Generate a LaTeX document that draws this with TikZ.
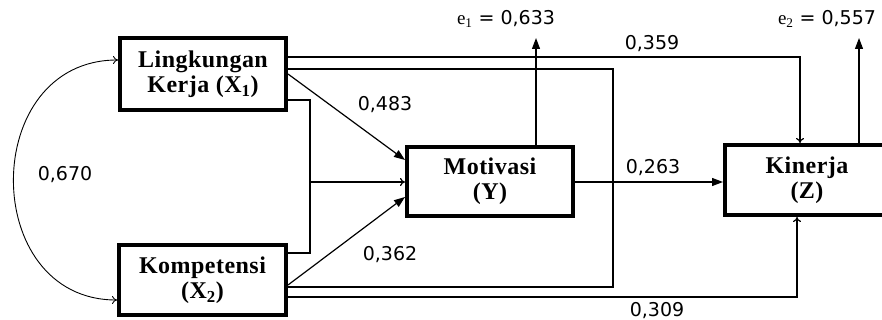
\documentclass[tikz,border=0pt]{standalone}
\usepackage{fontspec}
\setmainfont{Liberation Serif}
\newfontfamily\lblfont{DejaVu Sans}
\newfontfamily\boxfont[LetterSpace=2]{Liberation Serif}
\usetikzlibrary{arrows.meta,calc}
\begin{document}
\begin{tikzpicture}[x=1pt,y=-1pt,
  box/.style={draw,line width=4pt,align=center,font=\boxfont\bfseries\fontsize{24}{25}\selectfont,inner sep=0pt},
  lbl/.style={font=\lblfont\fontsize{19}{22}\selectfont,inner sep=0pt},
  conn/.style={line width=1.2pt},
  arr/.style={conn,-{Triangle[length=11pt,width=8pt]}},
  tarr/.style={conn,-{To[length=5pt,width=8pt]}},
  dtarr/.style={line width=0.9pt,{To[length=5pt,width=8pt]}-{To[length=5pt,width=8pt]}}
]
\fill[white] (0,0) rectangle (882,320);
\useasboundingbox (0,0) rectangle (882,320);
% boxes
\node[box,minimum width=166pt,minimum height=72pt] (X1) at (203,74) {Lingkungan\\Kerja (X\textsubscript{1})};
\node[box,minimum width=167pt,minimum height=70pt] (X2) at (202.5,280) {Kompetensi\\(X\textsubscript{2})};
\node[box,minimum width=166pt,minimum height=69pt] (Y) at (490,181.5) {Motivasi\\(Y)};
\node[box,minimum width=164pt,minimum height=70pt] (Z) at (807,180) {Kinerja\\(Z)};
% free ends / junctions
\coordinate (j) at (310,182);
\coordinate (e1t) at (536,38);
\coordinate (e2t) at (859,38);
% labels
\node[lbl] (l359) at (652,44) {0,359};
\node[lbl] (l483) at (385,105) {0,483};
\node[lbl] (l263) at (653,168) {0,263};
\node[lbl] (l362) at (390,255) {0,362};
\node[lbl] (l309) at (657,311) {0,309};
\node[lbl] (l670) at (65,175) {0,670};
\node[lbl,anchor=base] (e1l) at (506,25) {{\rmfamily e\textsubscript{1}} = 0,633};
\node[lbl,anchor=base] (e2l) at (827,25) {{\rmfamily e\textsubscript{2}} = 0,557};
% connectors
\draw[tarr] (X1.east |- 0,57) -| (Z.north -| 800,0);
\draw[conn] (X1.east |- 0,69) -- (613,69) -- (613,287) -- (X2.east |- 0,287);
\draw[tarr] (X2.east |- 0,297) -| (Z.south -| 797,0);
\draw[arr] (X1.east |- 0,74) -- (Y.west |- 0,160);
\draw[arr] (X2.east |- 0,285) -- (Y.west |- 0,197);
\draw[conn] (X1.east |- 0,100) -- (j |- 0,100) -- (j |- 0,253) -- (X2.east |- 0,253);
\draw[tarr] (j) -- (Y.west |- j);
\draw[arr] (Y.east |- 0,182) -- (Z.west |- 0,182);
\draw[arr] (Y.north -| e1t) -- (e1t);
\draw[arr] (Z.north -| e2t) -- (e2t);
\draw[dtarr] (X1.west |- 0,60) .. controls (-21,60) and (-21,300) .. (X2.west |- 0,300);
\end{tikzpicture}
\end{document}
